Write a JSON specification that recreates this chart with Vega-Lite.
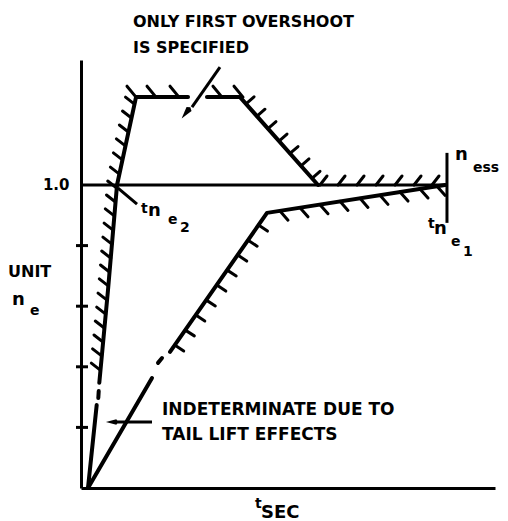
{
  "$schema": "https://vega.github.io/schema/vega-lite/v6.json",
  "width": 414,
  "height": 428,
  "autosize": {"type": "none"},
  "padding": {"left": 81, "top": 60, "right": 13, "bottom": 33},
  "background": "white",
  "config": {"view": {"stroke": null}},
  "encoding": {
    "x": {"field": "t", "type": "quantitative", "scale": {"domain": [0, 100], "nice": false, "zero": false},
      "axis": {"domain": true, "domainColor": "black", "domainWidth": 3, "ticks": false, "labels": false, "grid": false, "title": null}},
    "y": {"field": "n", "type": "quantitative", "scale": {"domain": [0, 1.4125], "nice": false, "zero": false},
      "axis": {"values": [1], "labelExpr": "'1.0'", "domain": true, "domainColor": "black", "domainWidth": 3, "ticks": false, "grid": false, "title": null,
        "labelFont": "DejaVu Sans", "labelFontWeight": "bold", "labelFontSize": 15, "labelColor": "black", "labelPadding": 12, "labelBaseline": "middle"}}
  },
  "layer": [
    {
      "data": {"values": [
        {"seg": "u1", "ord": 1, "t": 1.69, "n": 0},
        {"seg": "u1", "ord": 2, "t": 3.79, "n": 0.274},
        {"seg": "u2", "ord": 1, "t": 4.18, "n": 0.297},
        {"seg": "u2", "ord": 2, "t": 4.28, "n": 0.320},
        {"seg": "u3", "ord": 1, "t": 4.42, "n": 0.347},
        {"seg": "u3", "ord": 2, "t": 6.52, "n": 0.653},
        {"seg": "u3", "ord": 3, "t": 8.70, "n": 1.0},
        {"seg": "u3", "ord": 4, "t": 13.29, "n": 1.290},
        {"seg": "u3", "ord": 5, "t": 25.85, "n": 1.290},
        {"seg": "u4", "ord": 1, "t": 30.43, "n": 1.290},
        {"seg": "u4", "ord": 2, "t": 38.41, "n": 1.290},
        {"seg": "u4", "ord": 3, "t": 57.25, "n": 1.0},
        {"seg": "l1", "ord": 1, "t": 1.69, "n": 0},
        {"seg": "l1", "ord": 2, "t": 17.15, "n": 0.363},
        {"seg": "l2", "ord": 1, "t": 18.6, "n": 0.413},
        {"seg": "l2", "ord": 2, "t": 19.57, "n": 0.429},
        {"seg": "l3", "ord": 1, "t": 21.5, "n": 0.449},
        {"seg": "l3", "ord": 2, "t": 44.93, "n": 0.908},
        {"seg": "l3", "ord": 3, "t": 87.92, "n": 1.0}
      ]},
      "mark": {"type": "line", "color": "black", "strokeWidth": 4, "strokeCap": "round", "strokeJoin": "round"},
      "encoding": {"detail": {"field": "seg"}, "order": {"field": "ord", "type": "quantitative"}}
    },
    {
      "data": {"values": [
        {"t": 0, "n": 1.0, "t2": 88.4, "n2": 1.0},
        {"t": 88.4, "n": 0.875, "t2": 88.4, "n2": 1.106},
        {"t": -1.21, "n": 0.2, "t2": 1.69, "n2": 0.2},
        {"t": -1.21, "n": 0.4, "t2": 1.69, "n2": 0.4},
        {"t": -1.21, "n": 0.6, "t2": 1.69, "n2": 0.6},
        {"t": -1.21, "n": 0.8, "t2": 1.69, "n2": 0.8},
        {"t": 8.94, "n": 0.990, "t2": 13.53, "n2": 0.937},
        {"t": 33.57, "n": 1.389, "t2": 26.81, "n2": 1.257},
        {"t": 17.15, "n": 0.218, "t2": 8.21, "n2": 0.218}
      ]},
      "mark": {"type": "rule", "color": "black", "strokeWidth": 3},
      "encoding": {"x2": {"field": "t2"}, "y2": {"field": "n2"}}
    },
    {
      "data": {"values": [
        {"t": 12.92, "n": 1.267, "t2": 10.75, "n2": 1.290},
        {"t": 12.20, "n": 1.221, "t2": 10.02, "n2": 1.244},
        {"t": 11.45, "n": 1.175, "t2": 9.27, "n2": 1.198},
        {"t": 10.72, "n": 1.129, "t2": 8.55, "n2": 1.152},
        {"t": 10.00, "n": 1.083, "t2": 7.83, "n2": 1.106},
        {"t": 9.28, "n": 1.036, "t2": 7.10, "n2": 1.059},
        {"t": 8.62, "n": 0.990, "t2": 6.45, "n2": 1.013},
        {"t": 8.33, "n": 0.944, "t2": 6.16, "n2": 0.967},
        {"t": 8.04, "n": 0.898, "t2": 5.87, "n2": 0.921},
        {"t": 7.75, "n": 0.851, "t2": 5.58, "n2": 0.874},
        {"t": 7.46, "n": 0.805, "t2": 5.29, "n2": 0.828},
        {"t": 7.17, "n": 0.759, "t2": 5.00, "n2": 0.782},
        {"t": 6.88, "n": 0.713, "t2": 4.71, "n2": 0.736},
        {"t": 6.59, "n": 0.667, "t2": 4.42, "n2": 0.690},
        {"t": 6.28, "n": 0.620, "t2": 4.11, "n2": 0.643},
        {"t": 5.97, "n": 0.574, "t2": 3.79, "n2": 0.597},
        {"t": 5.63, "n": 0.528, "t2": 3.45, "n2": 0.551},
        {"t": 5.31, "n": 0.482, "t2": 3.14, "n2": 0.505},
        {"t": 4.98, "n": 0.436, "t2": 2.80, "n2": 0.459},
        {"t": 4.66, "n": 0.389, "t2": 2.49, "n2": 0.412},
        {"t": 13.29, "n": 1.290, "t2": 11.11, "n2": 1.326},
        {"t": 18.12, "n": 1.290, "t2": 15.95, "n2": 1.326},
        {"t": 23.67, "n": 1.290, "t2": 21.50, "n2": 1.326},
        {"t": 34.06, "n": 1.290, "t2": 31.88, "n2": 1.326},
        {"t": 39.13, "n": 1.290, "t2": 36.96, "n2": 1.326},
        {"t": 39.86, "n": 1.268, "t2": 41.79, "n2": 1.291},
        {"t": 42.51, "n": 1.227, "t2": 44.44, "n2": 1.250},
        {"t": 45.17, "n": 1.186, "t2": 47.10, "n2": 1.209},
        {"t": 47.83, "n": 1.145, "t2": 49.76, "n2": 1.168},
        {"t": 50.48, "n": 1.104, "t2": 52.42, "n2": 1.127},
        {"t": 53.14, "n": 1.063, "t2": 55.07, "n2": 1.086},
        {"t": 55.80, "n": 1.022, "t2": 57.73, "n2": 1.045},
        {"t": 57.73, "n": 1.0, "t2": 59.42, "n2": 1.0297},
        {"t": 62.08, "n": 1.0, "t2": 63.77, "n2": 1.0297},
        {"t": 66.67, "n": 1.0, "t2": 68.36, "n2": 1.0297},
        {"t": 71.26, "n": 1.0, "t2": 72.95, "n2": 1.0297},
        {"t": 75.85, "n": 1.0, "t2": 77.54, "n2": 1.0297},
        {"t": 80.43, "n": 1.0, "t2": 82.13, "n2": 1.0297},
        {"t": 84.78, "n": 1.0, "t2": 86.47, "n2": 1.0297},
        {"t": 48.07, "n": 0.914, "t2": 50.00, "n2": 0.884},
        {"t": 52.90, "n": 0.925, "t2": 54.83, "n2": 0.895},
        {"t": 57.73, "n": 0.935, "t2": 59.66, "n2": 0.905},
        {"t": 62.56, "n": 0.946, "t2": 64.49, "n2": 0.916},
        {"t": 67.39, "n": 0.956, "t2": 69.32, "n2": 0.926},
        {"t": 72.22, "n": 0.966, "t2": 74.15, "n2": 0.936},
        {"t": 77.05, "n": 0.977, "t2": 78.99, "n2": 0.947},
        {"t": 81.88, "n": 0.987, "t2": 83.82, "n2": 0.957},
        {"t": 85.99, "n": 0.996, "t2": 87.92, "n2": 0.966},
        {"t": 42.87, "n": 0.868, "t2": 45.04, "n2": 0.848},
        {"t": 40.36, "n": 0.818, "t2": 42.54, "n2": 0.798},
        {"t": 37.85, "n": 0.769, "t2": 40.02, "n2": 0.749},
        {"t": 35.31, "n": 0.719, "t2": 37.49, "n2": 0.700},
        {"t": 32.80, "n": 0.670, "t2": 34.98, "n2": 0.650},
        {"t": 30.27, "n": 0.620, "t2": 32.44, "n2": 0.601},
        {"t": 27.73, "n": 0.571, "t2": 29.90, "n2": 0.551},
        {"t": 25.19, "n": 0.521, "t2": 27.37, "n2": 0.502},
        {"t": 22.63, "n": 0.472, "t2": 24.81, "n2": 0.452}
      ]},
      "mark": {"type": "rule", "color": "black", "strokeWidth": 3, "strokeCap": "round"},
      "encoding": {"x2": {"field": "t2"}, "y2": {"field": "n2"}}
    },
    {
      "data": {"values": [{"t": 25.36, "n": 1.238}]},
      "mark": {"type": "point", "shape": "M0,-1L0.45,0.7L0,1L-0.45,0.7Z", "filled": true, "color": "black", "opacity": 1, "size": 200, "angle": 218}
    },
    {
      "data": {"values": [{"t": 7.49, "n": 0.218}]},
      "mark": {"type": "point", "shape": "M0,-1L0.45,0.7L0,1L-0.45,0.7Z", "filled": true, "color": "black", "opacity": 1, "size": 150, "angle": 270}
    },
    {
      "data": {"values": [
        {"label": "ONLY FIRST OVERSHOOT", "t": 12.56, "n": 1.521},
        {"label": "IS SPECIFIED", "t": 12.56, "n": 1.436},
        {"label": "UNIT", "t": -17.63, "n": 0.696}
      ]},
      "mark": {"type": "text", "align": "left", "baseline": "alphabetic", "font": "DejaVu Sans", "fontWeight": "bold", "fontSize": 16, "color": "black"},
      "encoding": {"text": {"field": "label"}}
    },
    {
      "data": {"values": [
        {"label": "INDETERMINATE DUE TO", "t": 19.57, "n": 0.241},
        {"label": "TAIL LIFT EFFECTS", "t": 19.57, "n": 0.158}
      ]},
      "mark": {"type": "text", "align": "left", "baseline": "alphabetic", "font": "DejaVu Sans", "fontWeight": "bold", "fontSize": 17, "color": "black"},
      "encoding": {"text": {"field": "label"}}
    },
    {
      "data": {"values": [
        {"label": "n", "t": -16.67, "n": 0.604},
        {"label": "n", "t": 16.18, "n": 0.898},
        {"label": "n", "t": 90.34, "n": 1.082},
        {"label": "n", "t": 85.27, "n": 0.838},
        {"label": "SEC", "t": 43.48, "n": -0.099}
      ]},
      "mark": {"type": "text", "align": "left", "baseline": "alphabetic", "font": "DejaVu Sans", "fontWeight": "bold", "fontSize": 18, "color": "black"},
      "encoding": {"text": {"field": "label"}}
    },
    {
      "data": {"values": [
        {"label": "e", "t": -12.32, "n": 0.571},
        {"label": "t", "t": 14.49, "n": 0.908},
        {"label": "e", "t": 21.01, "n": 0.871},
        {"label": "2", "t": 23.91, "n": 0.845},
        {"label": "ess", "t": 94.69, "n": 1.043},
        {"label": "t", "t": 83.82, "n": 0.858},
        {"label": "e", "t": 89.37, "n": 0.799},
        {"label": "1", "t": 92.27, "n": 0.766},
        {"label": "t", "t": 42.03, "n": -0.066}
      ]},
      "mark": {"type": "text", "align": "left", "baseline": "alphabetic", "font": "DejaVu Sans", "fontWeight": "bold", "fontSize": 14, "color": "black"},
      "encoding": {"text": {"field": "label"}}
    }
  ]
}
